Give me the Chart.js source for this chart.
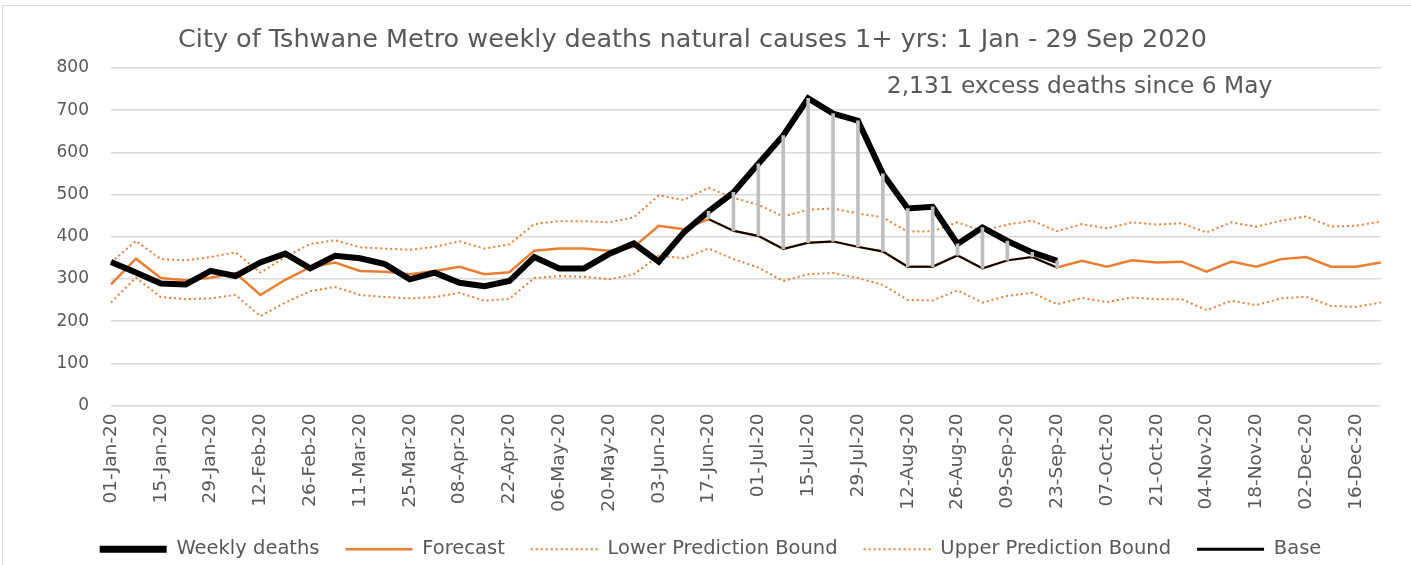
<!DOCTYPE html>
<html>
<head>
<meta charset="utf-8">
<script src="https://cdn.jsdelivr.net/npm/chart.js@4.4.1/dist/chart.umd.min.js"></script>
<style>
  html, body { margin: 0; padding: 0; background: #ffffff; }
  #wrap { position: relative; width: 1411px; height: 565px; overflow: hidden; }
  #frame { position: absolute; left: 2px; top: 5px; width: 1420px; height: 600px; border-left: 1px solid #d9d9d9; border-top: 1px solid #d9d9d9; box-sizing: border-box; pointer-events: none; }
  canvas { position: absolute; left: 0; top: 0; }
</style>
</head>
<body>
<div id="wrap">
  <canvas id="c" width="1411" height="565"></canvas>
  <div id="frame"></div>
</div>
<script>
const weeks = [
  "01-Jan-20","08-Jan-20","15-Jan-20","22-Jan-20","29-Jan-20",
  "05-Feb-20","12-Feb-20","19-Feb-20","26-Feb-20",
  "04-Mar-20","11-Mar-20","18-Mar-20","25-Mar-20",
  "01-Apr-20","08-Apr-20","15-Apr-20","22-Apr-20","29-Apr-20",
  "06-May-20","13-May-20","20-May-20","27-May-20",
  "03-Jun-20","10-Jun-20","17-Jun-20","24-Jun-20",
  "01-Jul-20","08-Jul-20","15-Jul-20","22-Jul-20","29-Jul-20",
  "05-Aug-20","12-Aug-20","19-Aug-20","26-Aug-20",
  "02-Sep-20","09-Sep-20","16-Sep-20","23-Sep-20","30-Sep-20",
  "07-Oct-20","14-Oct-20","21-Oct-20","28-Oct-20",
  "04-Nov-20","11-Nov-20","18-Nov-20","25-Nov-20",
  "02-Dec-20","09-Dec-20","16-Dec-20","23-Dec-20"
];

const weeklyDeaths = [
  340, 315, 289, 287, 319, 307, 339, 360, 325,
  355, 349, 335, 299, 315, 291, 283, 295, 352,
  325, 325, 359, 384, 341, 410, 460, 505, 573,
  640, 728, 692, 675, 549, 467, 471, 383, 422,
  390, 363, 343,
  null, null, null, null, null, null, null, null, null, null, null, null, null, null
];

const forecast = [
  287, 348, 302, 297, 303, 314, 262, 298, 328,
  339, 319, 317, 311, 319, 329, 311, 316, 367,
  372, 372, 367, 376, 426, 418, 442, 414, 402,
  371, 386, 389, 376, 365, 329, 329, 356, 325,
  344, 352, 327, 343, 329, 344, 339, 341, 317,
  341, 329, 347, 352, 329, 329, 339
];

const lowerBound = [
  244, 303, 257, 252, 254, 262, 212, 244, 271,
  281, 262, 257, 254, 257, 267, 248, 253, 302,
  307, 305, 299, 311, 355, 349, 372, 347, 327,
  295, 311, 314, 302, 286, 250, 249, 273, 244,
  260, 267, 240, 255, 245, 256, 252, 252, 226,
  248, 238, 254, 258, 236, 234, 244
];

const upperBound = [
  339, 390, 347, 344, 352, 363, 315, 352, 383,
  392, 375, 372, 369, 376, 389, 372, 382, 430,
  437, 437, 434, 446, 498, 487, 516, 492, 476,
  448, 464, 467, 455, 446, 412, 413, 434, 414,
  429, 438, 413, 430, 420, 434, 429, 432, 410,
  434, 424, 438, 448, 424, 426, 436
];

const base = [
  null, null, null, null, null, null, null, null, null,
  null, null, null, null, null, null, null, null, null,
  null, null, null, null, null, null, 442, 414, 402,
  371, 386, 389, 376, 365, 329, 329, 356, 325,
  344, 352, 327,
  null, null, null, null, null, null, null, null, null, null, null, null, null, null
];

const yTicks = [0, 100, 200, 300, 400, 500, 600, 700, 800];
const titleText = "City of Tshwane Metro weekly deaths natural causes 1+ yrs: 1 Jan - 29 Sep 2020";
const noteText = "2,131 excess deaths since 6 May";

// excess (high-low) segments between base and weekly deaths
const excessBars = weeks.map((w, i) =>
  (base[i] != null && weeklyDeaths[i] != null) ? [base[i], weeklyDeaths[i]] : null);

const FONT = "'DejaVu Sans', 'Open Sans', sans-serif";
const ORANGE = "#ED7D31";
const TXT = "#595959";

const notePlugin = {
  id: 'note',
  afterLayout(chart) {
    // nudge the legend row to sit centred like the original
    if (chart.legend) { chart.legend.left += 18; chart.legend.right += 18; }
  },
  afterDatasetsDraw(chart) {
    const {ctx, scales} = chart;
    const x = scales.x.getPixelForValue(weeks.indexOf("05-Aug-20"));
    const y = scales.y.getPixelForValue(755);
    ctx.save();
    ctx.font = "23.3px " + FONT;
    ctx.fillStyle = TXT;
    ctx.textAlign = 'left';
    ctx.textBaseline = 'middle';
    ctx.fillText(noteText, x + 4, y);
    ctx.restore();
  }
};

new Chart(document.getElementById('c'), {
  type: 'line',
  data: {
    labels: weeks,
    datasets: [
      { type: 'bar', label: 'excess', data: excessBars, backgroundColor: '#BFBFBF',
        barThickness: 3, order: 0, inLegend: false },
      { label: 'Weekly deaths', data: weeklyDeaths, borderColor: '#000000', borderWidth: 6,
        pointRadius: 0, tension: 0, order: 2, spanGaps: false, borderJoinStyle: 'miter' },
      { label: 'Forecast', data: forecast, borderColor: ORANGE, borderWidth: 2.5,
        pointRadius: 0, tension: 0, order: 5 },
      { label: 'Lower Prediction Bound', data: lowerBound, borderColor: ORANGE, borderWidth: 2,
        borderDash: [2, 3], pointRadius: 0, tension: 0, order: 4 },
      { label: 'Upper Prediction Bound', data: upperBound, borderColor: ORANGE, borderWidth: 2,
        borderDash: [2, 3], pointRadius: 0, tension: 0, order: 4 },
      { label: 'Base', data: base, borderColor: '#000000', borderWidth: 2,
        pointRadius: 0, tension: 0, order: 3 }
    ]
  },
  options: {
    responsive: false,
    animation: false,
    layout: { padding: { left: 0, right: 26, top: 0, bottom: -4 } },
    plugins: {
      title: {
        display: true, text: titleText, color: TXT,
        font: { family: FONT, size: 25.5, weight: 'normal' },
        padding: { top: 25, bottom: 12.4 }
      },
      legend: {
        position: 'bottom',
        labels: {
          font: { family: FONT, size: 19.5 },
          color: TXT,
          usePointStyle: true,
          pointStyleWidth: 67,
          padding: 26,
          generateLabels(chart) {
            return chart.data.datasets.map((ds, i) => ({
              datasetIndex: i,
              text: ds.label,
              fontColor: TXT,
              strokeStyle: ds.borderColor,
              fillStyle: ds.borderColor,
              lineWidth: ds.label === 'Weekly deaths' ? 7 : (ds.label === 'Base' ? 3 : ds.borderWidth),
              lineDash: ds.borderDash || [],
              lineCap: 'butt',
              pointStyle: 'line',
              hidden: false,
              inLegend: ds.inLegend !== false
            })).filter(it => it.inLegend);
          }
        }
      },
      tooltip: { enabled: false }
    },
    scales: {
      x: {
        offset: false,
        grid: { display: false, offset: false, drawTicks: false },
        border: { display: false },
        ticks: {
          autoSkip: false, minRotation: 90, maxRotation: 90, padding: 8,
          color: TXT, font: { family: FONT, size: 18.5 },
          callback(v, i) { return i % 2 === 0 ? weeks[i] : ''; }
        },
        afterFit(scale) { scale.height = 108; }
      },
      y: {
        min: 0, max: 800,
        afterBuildTicks(scale) { scale.ticks = yTicks.map(v => ({ value: v })); },
        grid: { color: '#D9D9D9', lineWidth: 1.5, drawTicks: false },
        border: { display: false },
        ticks: { color: TXT, font: { family: FONT, size: 17 }, padding: 22 },
        afterFit(scale) { scale.width = 111; }
      }
    }
  },
  plugins: [notePlugin]
});
</script>
</body>
</html>
